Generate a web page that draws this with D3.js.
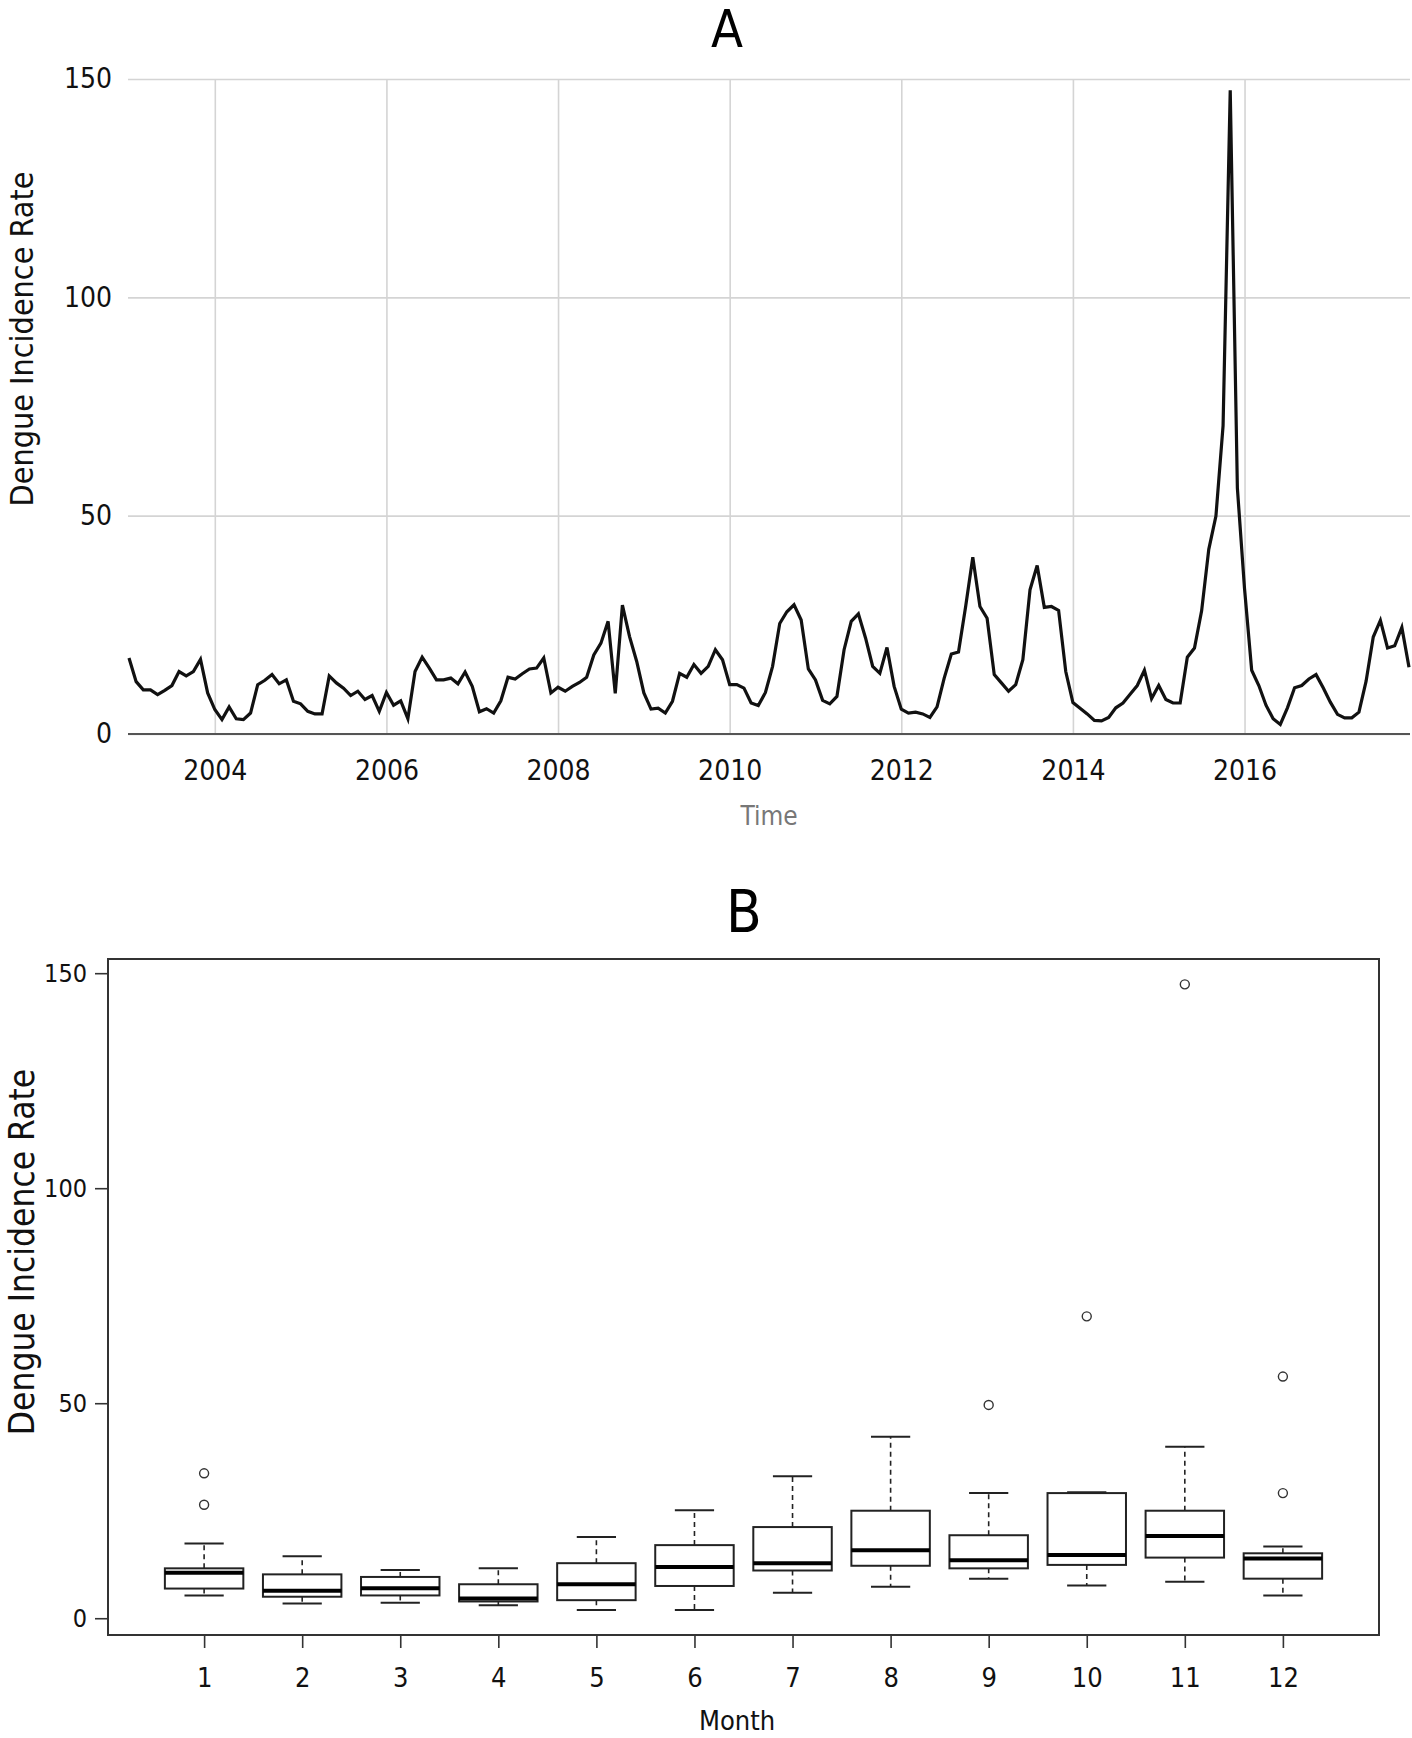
<!DOCTYPE html>
<html>
<head>
<meta charset="utf-8">
<script src="https://cdn.jsdelivr.net/npm/d3@7"></script>
<style>
  html, body { margin: 0; padding: 0; background: #fff; }
  svg text { font-family: "DejaVu Sans Condensed", "DejaVu Sans", sans-serif; }
</style>
</head>
<body>
<svg id="chart" width="1412" height="1738"></svg>
<script>
// ---------------- Data ----------------
// Panel A: monthly dengue incidence rate, Jan 2003 .. Dec 2017
const startYear = 2003;
const incidence = [
  17.4, 12.0, 10.1, 10.1, 9.0, 10.0, 11.1, 14.3, 13.3, 14.3, 17.1, 9.4,   // 2003
  5.6, 3.3, 6.2, 3.5, 3.3, 4.8, 11.3, 12.3, 13.6, 11.5, 12.4, 7.5,        // 2004
  6.9, 5.2, 4.6, 4.6, 13.3, 11.7, 10.5, 8.8, 9.8, 7.9, 8.8, 5.2,          // 2005
  9.5, 6.6, 7.6, 3.5, 14.3, 17.6, 15.1, 12.4, 12.4, 12.8, 11.5, 14.2,     // 2006
  10.9, 5.1, 5.8, 4.8, 7.6, 13.0, 12.6, 13.8, 14.9, 15.1, 17.4, 9.4,      // 2007
  10.7, 9.8, 10.9, 11.8, 13.0, 18.1, 20.8, 25.8, 9.3, 29.5, 22.3, 16.6,   // 2008
  9.4, 5.7, 5.9, 4.8, 7.5, 13.9, 13.0, 15.9, 13.9, 15.5, 19.3, 17.0,      // 2009
  11.3, 11.3, 10.5, 7.1, 6.5, 9.5, 15.5, 25.3, 28.0, 29.6, 26.1, 14.9,    // 2010
  12.4, 7.7, 6.9, 8.6, 19.3, 25.8, 27.5, 22.0, 15.5, 13.9, 19.8, 10.9,    // 2011
  5.7, 4.8, 5.0, 4.6, 3.8, 6.2, 12.8, 18.3, 18.8, 29.2, 40.5, 29.2,       // 2012
  26.5, 13.6, 11.7, 9.8, 11.3, 17.0, 33.0, 38.6, 29.0, 29.2, 28.3, 14.3,  // 2013
  7.2, 5.9, 4.6, 3.1, 3.0, 3.8, 6.0, 7.1, 9.1, 11.1, 14.6, 8.1,           // 2014
  11.1, 7.9, 7.1, 7.1, 17.6, 19.7, 28.2, 42.3, 49.9, 70.6, 147.4, 56.3,   // 2015
  33.3, 14.6, 11.1, 6.6, 3.5, 2.2, 6.0, 10.6, 11.1, 12.6, 13.6, 10.6,     // 2016
  7.3, 4.5, 3.7, 3.7, 5.0, 12.1, 22.2, 26.0, 19.7, 20.2, 24.4, 15.3       // 2017
];
const yearTicks = [2004, 2006, 2008, 2010, 2012, 2014, 2016];
const rateTicks = [0, 50, 100, 150];

// Panel B: boxplot statistics by month
const months   = [1, 2, 3, 4, 5, 6, 7, 8, 9, 10, 11, 12];
const boxLow   = [5.3, 3.4, 3.6, 3.0, 1.9, 1.9, 5.9, 7.3, 9.2, 7.6, 8.5, 5.3];
const boxQ1    = [6.9, 5.0, 5.3, 3.9, 4.2, 7.5, 11.1, 12.2, 11.6, 12.4, 14.1, 9.2];
const boxMed   = [10.6, 6.4, 7.0, 4.6, 7.9, 11.9, 12.8, 15.8, 13.5, 14.7, 19.1, 13.9];
const boxQ3    = [11.6, 10.2, 9.6, 7.9, 12.8, 17.0, 21.2, 25.0, 19.3, 29.1, 25.0, 15.1];
const boxHigh  = [17.4, 14.4, 11.2, 11.6, 18.9, 25.1, 33.0, 42.2, 29.1, 29.3, 39.9, 16.7];
const outliers = [[33.7, 26.4], [], [], [], [], [], [], [], [49.6], [70.2], [147.4], [56.2, 29.1]];

// ---------------- Panel A ----------------
const svg = d3.select("#chart");
const A = { left: 128, right: 1410, top: 79, bottom: 734 };

const series = incidence.map((v, i) => ({ t: startYear + i / 12, v }));
const xA = d3.scaleLinear()
  .domain([startYear, startYear + (incidence.length - 1) / 12])
  .range([129, 1409]);
const yA = d3.scaleLinear().domain([0, 150]).range([A.bottom, A.top]);

const gA = svg.append("g");

// horizontal gridlines + y tick labels
const yAxisA = d3.axisLeft(yA).tickValues(rateTicks).tickSize(-(A.right - A.left)).tickPadding(16);
const gyA = gA.append("g").attr("transform", `translate(${A.left},0)`).call(yAxisA);
gyA.select(".domain").remove();
gyA.selectAll(".tick line").attr("stroke", "#d4d4d4").attr("stroke-width", 1.6);
gyA.selectAll(".tick text").attr("font-size", 28).attr("fill", "#111")
  .attr("font-family", "DejaVu Sans Condensed, DejaVu Sans, sans-serif");

// vertical gridlines + x tick labels
const xAxisA = d3.axisBottom(xA).tickValues(yearTicks).tickFormat(d3.format("d"))
  .tickSize(-(A.bottom - A.top)).tickPadding(26);
const gxA = gA.append("g").attr("transform", `translate(0,${A.bottom})`).call(xAxisA);
gxA.select(".domain").remove();
gxA.selectAll(".tick line").attr("stroke", "#d4d4d4").attr("stroke-width", 1.6);
gxA.selectAll(".tick text").attr("font-size", 28).attr("fill", "#111")
  .attr("font-family", "DejaVu Sans Condensed, DejaVu Sans, sans-serif");

// zero baseline
gA.append("line")
  .attr("x1", A.left).attr("x2", A.right)
  .attr("y1", yA(0)).attr("y2", yA(0))
  .attr("stroke", "#555").attr("stroke-width", 2.2);

// series line
gA.append("path")
  .datum(series)
  .attr("fill", "none")
  .attr("stroke", "#111")
  .attr("stroke-width", 3.2)
  .attr("d", d3.line().x(d => xA(d.t)).y(d => yA(d.v)));

// titles and labels
svg.append("text").attr("x", 727).attr("y", 47).attr("text-anchor", "middle")
  .attr("font-size", 52).attr("fill", "#000").text("A");
svg.append("text")
  .attr("transform", `translate(33,339) rotate(-90)`)
  .attr("text-anchor", "middle").attr("font-size", 32).attr("fill", "#111")
  .text("Dengue Incidence Rate");
svg.append("text").attr("x", 769).attr("y", 825).attr("text-anchor", "middle")
  .attr("font-size", 26).attr("fill", "#777").text("Time");

// ---------------- Panel B ----------------
const B = { left: 108, right: 1379, top: 959, bottom: 1635 };
const xB = d3.scaleLinear().domain([0.02, 12.98]).range([B.left, B.right]);
const yB = d3.scaleLinear().domain([-3.9, 153.3]).range([B.bottom, B.top]);
const unit = xB(2) - xB(1);
const boxW = 0.8 * unit;
const capW = 0.4 * unit;

const gB = svg.append("g");

// frame
gB.append("rect")
  .attr("x", B.left).attr("y", B.top)
  .attr("width", B.right - B.left).attr("height", B.bottom - B.top)
  .attr("fill", "none").attr("stroke", "#333").attr("stroke-width", 2);

// y axis
const gyB = gB.append("g").attr("transform", `translate(${B.left},0)`)
  .call(d3.axisLeft(yB).tickValues(rateTicks).tickSize(13).tickPadding(8));
gyB.select(".domain").remove();
gyB.selectAll(".tick line").attr("stroke", "#333").attr("stroke-width", 1.6);
gyB.selectAll(".tick text").attr("font-size", 25).attr("fill", "#111")
  .attr("font-family", "DejaVu Sans Condensed, DejaVu Sans, sans-serif");

// x axis
const gxB = gB.append("g").attr("transform", `translate(0,${B.bottom})`)
  .call(d3.axisBottom(xB).tickValues(months).tickFormat(d3.format("d")).tickSize(13).tickPadding(20));
gxB.select(".domain").remove();
gxB.selectAll(".tick line").attr("stroke", "#333").attr("stroke-width", 1.6);
gxB.selectAll(".tick text").attr("font-size", 27).attr("fill", "#111")
  .attr("font-family", "DejaVu Sans Condensed, DejaVu Sans, sans-serif");

const boxes = months.map((m, i) => ({
  m, low: boxLow[i], q1: boxQ1[i], med: boxMed[i], q3: boxQ3[i], high: boxHigh[i], out: outliers[i]
}));

const bg = gB.selectAll("g.box").data(boxes).join("g").attr("class", "box");

// whiskers (dashed)
bg.append("line")
  .attr("x1", d => xB(d.m)).attr("x2", d => xB(d.m))
  .attr("y1", d => yB(d.q3)).attr("y2", d => yB(d.high))
  .attr("stroke", "#222").attr("stroke-width", 1.6).attr("stroke-dasharray", "5,4");
bg.append("line")
  .attr("x1", d => xB(d.m)).attr("x2", d => xB(d.m))
  .attr("y1", d => yB(d.q1)).attr("y2", d => yB(d.low))
  .attr("stroke", "#222").attr("stroke-width", 1.6).attr("stroke-dasharray", "5,4");
// caps
bg.append("line")
  .attr("x1", d => xB(d.m) - capW / 2).attr("x2", d => xB(d.m) + capW / 2)
  .attr("y1", d => yB(d.high)).attr("y2", d => yB(d.high))
  .attr("stroke", "#222").attr("stroke-width", 2);
bg.append("line")
  .attr("x1", d => xB(d.m) - capW / 2).attr("x2", d => xB(d.m) + capW / 2)
  .attr("y1", d => yB(d.low)).attr("y2", d => yB(d.low))
  .attr("stroke", "#222").attr("stroke-width", 2);
// box
bg.append("rect")
  .attr("x", d => xB(d.m) - boxW / 2).attr("width", boxW)
  .attr("y", d => yB(d.q3)).attr("height", d => yB(d.q1) - yB(d.q3))
  .attr("fill", "#fff").attr("stroke", "#222").attr("stroke-width", 2);
// median
bg.append("line")
  .attr("x1", d => xB(d.m) - boxW / 2).attr("x2", d => xB(d.m) + boxW / 2)
  .attr("y1", d => yB(d.med)).attr("y2", d => yB(d.med))
  .attr("stroke", "#000").attr("stroke-width", 4);
// outliers
bg.selectAll("circle").data(d => d.out.map(v => ({ m: d.m, v }))).join("circle")
  .attr("cx", d => xB(d.m)).attr("cy", d => yB(d.v)).attr("r", 4.5)
  .attr("fill", "none").attr("stroke", "#333").attr("stroke-width", 1.4);

// titles and labels
svg.append("text").attr("x", 744).attr("y", 932).attr("text-anchor", "middle")
  .attr("font-size", 58).attr("fill", "#000").text("B");
svg.append("text")
  .attr("transform", `translate(34,1252) rotate(-90)`)
  .attr("text-anchor", "middle").attr("font-size", 35).attr("fill", "#111")
  .text("Dengue Incidence Rate");
svg.append("text").attr("x", 737).attr("y", 1730).attr("text-anchor", "middle")
  .attr("font-size", 27).attr("fill", "#111").text("Month");
</script>
</body>
</html>
